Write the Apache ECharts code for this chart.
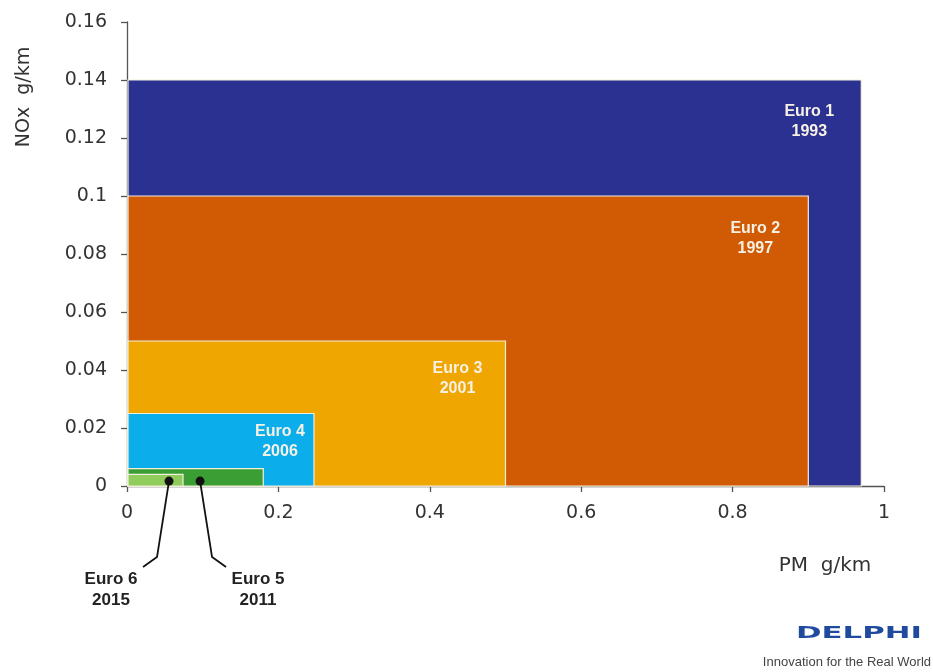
<!DOCTYPE html>
<html>
<head>
<meta charset="utf-8">
<script src="https://cdn.jsdelivr.net/npm/echarts@6/dist/echarts.min.js"></script>
<style>html,body{margin:0;padding:0;background:#fff}#c{width:933px;height:672px}</style>
</head>
<body>
<div id="c"></div>
<script>
// Data
const stages = ['Euro 1', 'Euro 2', 'Euro 3', 'Euro 4', 'Euro 5', 'Euro 6'];
const years = ['1993', '1997', '2001', '2006', '2011', '2015'];
const pmLimits = [0.97, 0.9, 0.5, 0.247, 0.18, 0.074];
const noxLimits = [0.14, 0.1, 0.05, 0.025, 0.006, 0.004];
const stageColors = ['#2B3191', '#D15A05', '#EFA600', '#0BAEEA', '#3B9E34', '#8FCC5C'];
const xTicks = [0, 0.2, 0.4, 0.6, 0.8, 1];
const yTicks = [0, 0.02, 0.04, 0.06, 0.08, 0.1, 0.12, 0.14, 0.16];
// annotation dots for small stages (Euro 6, Euro 5)
const annotStages = ['Euro 6', 'Euro 5'];
const annotYears = ['2015', '2011'];
const annotX = [0.0555, 0.0965];
const annotY = [0.0017, 0.0017];

// label offsets (px) from rect top-right corner: [dx, dy]
const labelOffsets = [[-52, 42], [-53, 43], [-48, 38], [-34, 28], null, null];

const rectData = stages.map((s, i) => [pmLimits[i], noxLimits[i], i]);
const annotData = annotStages.map((s, i) => [annotX[i], annotY[i], i]);

const chart = echarts.init(document.getElementById('c'), null, {renderer: 'canvas'});
const FONT = 'Liberation Sans, Arial, sans-serif';
const AXFONT = 'DejaVu Sans, sans-serif';

chart.setOption({
  backgroundColor: '#ffffff',
  animation: false,
  grid: {left: 127, right: 49, top: 22, bottom: 186, containLabel: false},
  xAxis: {
    type: 'value', min: 0, max: 1, interval: 0.2,
    axisLine: {show: true, lineStyle: {color: '#555', width: 1.3}},
    axisTick: {show: true, length: 6, lineStyle: {color: '#555', width: 1.3}},
    axisLabel: {color: '#333', fontSize: 19, fontFamily: AXFONT, margin: 18,
      formatter: v => String(+v.toFixed(2))},
    splitLine: {show: false}
  },
  yAxis: {
    type: 'value', min: 0, max: 0.16, interval: 0.02,
    axisLine: {show: true, lineStyle: {color: '#555', width: 1.3}},
    axisTick: {show: true, length: 6, lineStyle: {color: '#555', width: 1.3}},
    axisLabel: {color: '#333', fontSize: 19, fontFamily: AXFONT, margin: 20,
      formatter: v => String(+v.toFixed(3))},
    splitLine: {show: false}
  },
  series: [
    {
      type: 'custom',
      clip: false,
      data: rectData,
      z: 1,
      renderItem: function (params, api) {
        const i = api.value(2);
        const p0 = api.coord([0, 0]);
        const p1 = api.coord([api.value(0), api.value(1)]);
        const children = [{
          type: 'rect',
          shape: {x: p0[0] + 1, y: p1[1], width: p1[0] - p0[0] - 1, height: p0[1] - p1[1]},
          style: {fill: stageColors[i], stroke: '#F4EEDC', lineWidth: 1.2}
        }];
        const off = labelOffsets[i];
        if (off) {
          children.push({
            type: 'text',
            x: p1[0] + off[0], y: p1[1] + off[1],
            style: {
              text: stages[i] + '\n' + years[i],
              fill: '#F6F1E4', font: 'bold 16px ' + FONT,
              align: 'center', verticalAlign: 'middle', lineHeight: 20
            }
          });
        }
        return {type: 'group', children: children};
      }
    },
    {
      type: 'custom',
      clip: false,
      data: annotData,
      z: 5,
      renderItem: function (params, api) {
        const i = api.value(2);
        const p = api.coord([api.value(0), api.value(1)]);
        const dir = i === 0 ? -1 : 1;
        const pts = [
          [p[0], p[1]],
          [p[0] + dir * 12, p[1] + 76],
          [p[0] + dir * 26, p[1] + 86]
        ];
        return {
          type: 'group',
          children: [
            {type: 'polyline', shape: {points: pts}, style: {stroke: '#111', lineWidth: 1.8, fill: null}},
            {type: 'circle', shape: {cx: p[0], cy: p[1], r: 4.5}, style: {fill: '#111'}},
            {
              type: 'text', x: p[0] + dir * 58, y: p[1] + 109,
              style: {
                text: annotStages[i] + '\n' + annotYears[i],
                fill: '#222', font: 'bold 17px ' + FONT,
                align: 'center', verticalAlign: 'middle', lineHeight: 21
              }
            }
          ]
        };
      }
    }
  ],
  graphic: [
    {
      type: 'text', x: 24, y: 97, rotation: Math.PI / 2,
      style: {text: 'NOx  g/km', fill: '#333', font: '19px ' + AXFONT, align: 'center', verticalAlign: 'middle'}
    },
    {
      type: 'text', x: 825, y: 566,
      style: {text: 'PM  g/km', fill: '#333', font: '20px ' + AXFONT, align: 'center', verticalAlign: 'middle'}
    },
    {
      type: 'text', x: 859, y: 634, scaleX: 2.05,
      style: {text: 'DELPHI', fill: '#1F4A9E', font: 'bold 15px ' + AXFONT, align: 'center', verticalAlign: 'middle'}
    },
    {
      type: 'text', x: 931, y: 662,
      style: {text: 'Innovation for the Real World', fill: '#444', font: '13px ' + FONT, align: 'right', verticalAlign: 'middle'}
    }
  ]
});
</script>
</body>
</html>
